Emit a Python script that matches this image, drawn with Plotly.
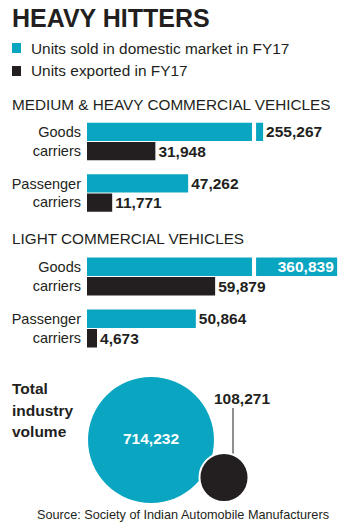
import plotly.graph_objects as go

# ---------------- data ----------------
categories = ["Goods<br>carriers", "Passenger<br>carriers"]
mhcv_domestic = [255267, 47262]
mhcv_export = [31948, 11771]
lcv_domestic = [360839, 50864]
lcv_export = [59879, 4673]
bubble_labels = ["Domestic", "Exported"]
bubble_values = [714232, 108271]

title = "HEAVY HITTERS"
legend_labels = ["Units sold in domestic market in FY17", "Units exported in FY17"]
section_titles = ["MEDIUM & HEAVY COMMERCIAL VEHICLES", "LIGHT COMMERCIAL VEHICLES"]
source = "Source: Society of Indian Automobile Manufacturers"

# ---------------- style ----------------
W, H = 350, 532
TEAL = "#0aa6c1"
DARK = "#231f20"
FONT = "Liberation Sans, Arial, sans-serif"

UNITS_PER_PX = 467.3
X0_PX = 87
BREAK_AT = 77100      # where long bars are broken
BREAK_GAP = 1900      # white gap width (units)
TAIL_AFTER_BREAK = {  # drawn length after the gap for broken bars
    (0, 0): 3300,
    (1, 0): 37900,
}
NUM_SIZE = 15.5


def shown(vals, section):
    out = []
    for i, v in enumerate(vals):
        if v > BREAK_AT + BREAK_GAP and (section, i) in TAIL_AFTER_BREAK:
            out.append(BREAK_AT + BREAK_GAP + TAIL_AFTER_BREAK[(section, i)])
        else:
            out.append(v)
    return out


def fmt(v):
    return f"<b>{v:,}</b>"


def py(px):
    return 1 - px / H


fig = go.Figure()

sections = [
    (mhcv_domestic, mhcv_export, "y"),
    (lcv_domestic, lcv_export, "y2"),
]

for s, (dom, exp, yax) in enumerate(sections):
    dshown = shown(dom, s)
    tpos = []
    tcol = []
    for i, v in enumerate(dom):
        if (s, i) in TAIL_AFTER_BREAK and TAIL_AFTER_BREAK[(s, i)] > 20000:
            tpos.append("inside")
            tcol.append("white")
        else:
            tpos.append("outside")
            tcol.append(DARK)
    fig.add_trace(go.Bar(
        y=list(range(len(categories))), x=dshown, orientation="h",
        yaxis=yax, xaxis="x",
        marker=dict(color=TEAL, line=dict(width=0)),
        text=[fmt(v) for v in dom], textposition=tpos,
        insidetextanchor="end",
        textfont=dict(family=FONT, size=NUM_SIZE, color=tcol),
        constraintext="none", cliponaxis=False,
        name=legend_labels[0], hoverinfo="skip",
    ))
    fig.add_trace(go.Bar(
        y=list(range(len(categories))), x=exp, orientation="h",
        yaxis=yax, xaxis="x",
        marker=dict(color=DARK, line=dict(width=0)),
        text=[fmt(v) for v in exp], textposition="outside",
        textfont=dict(family=FONT, size=NUM_SIZE, color=DARK),
        constraintext="none", cliponaxis=False,
        name=legend_labels[1], hoverinfo="skip",
    ))
    # white break marks on the (upper) domestic bar only
    for i, v in enumerate(dom):
        if (s, i) in TAIL_AFTER_BREAK:
            fig.add_shape(type="rect", xref="x", yref=yax,
                          x0=BREAK_AT, x1=BREAK_AT + BREAK_GAP,
                          y0=i - 0.45, y1=i - 0.01,
                          fillcolor="white", line=dict(width=0), layer="above")

# ---------------- bubbles ----------------
D_MAX = 126
bubble_x = [151, 224]
bubble_y = [440, 477.5]
fig.add_trace(go.Scatter(
    x=bubble_x, y=bubble_y, xaxis="x2", yaxis="y3",
    mode="markers+text",
    marker=dict(size=bubble_values, sizemode="area",
                sizeref=2 * max(bubble_values) / D_MAX ** 2,
                color=[TEAL, DARK], line=dict(color="white", width=[0, 2]),
                opacity=1),
    text=[fmt(bubble_values[0]), ""], textposition="middle center",
    textfont=dict(family=FONT, size=15.5, color="white"),
    hoverinfo="skip", cliponaxis=False,
))
fig.add_shape(type="line", xref="x2", yref="y3", x0=233, x1=233, y0=408, y1=454,
              line=dict(color=DARK, width=1), layer="below")

ann = []
ann.append(dict(x=242, y=398, xref="x2", yref="y3", text=fmt(bubble_values[1]),
                showarrow=False, font=dict(family=FONT, size=NUM_SIZE, color=DARK)))

# ---------------- text ----------------
def add_text(txt, x, y_px, size, family=FONT, color=DARK, xanchor="left"):
    ann.append(dict(x=x / W, y=py(y_px), xref="paper", yref="paper", text=txt,
                    showarrow=False, xanchor=xanchor, yanchor="middle",
                    font=dict(family=family, size=size, color=color)))

add_text("<b>" + title + "</b>", 10, 18, 25)
add_text(legend_labels[0], 29, 48.5, 15.4)
add_text(legend_labels[1], 29, 70.5, 15.4)
add_text(section_titles[0], 10, 104, 15.3)
add_text(section_titles[1], 10, 238, 15.3)
add_text("<b>Total</b>", 10, 388.5, 15.5)
add_text("<b>industry</b>", 10, 410, 15.5)
add_text("<b>volume</b>", 10, 431.5, 15.5)
add_text(source, 35, 515, 12.7)

# legend squares
for col, (y0, y1) in zip([TEAL, DARK], [(43, 53), (66, 76)]):
    fig.add_shape(type="rect", xref="paper", yref="paper",
                  x0=12 / W, x1=21 / W, y0=py(y1), y1=py(y0),
                  fillcolor=col, line=dict(width=0))

axis_off = dict(visible=False, showgrid=False, zeroline=False, fixedrange=True)
ycat = dict(range=[1.5, -0.5], tickvals=list(range(len(categories))), ticktext=categories,
            showgrid=False, zeroline=False, showline=False, ticks="",
            tickfont=dict(family=FONT, size=14.5, color=DARK), anchor="x",
            ticklabelstandoff=5)

fig.update_layout(
    width=W, height=H, margin=dict(l=0, r=0, t=0, b=0),
    paper_bgcolor="white", plot_bgcolor="rgba(0,0,0,0)",
    showlegend=False, barmode="group", bargap=0.25, bargroupgap=0.06,
    xaxis=dict(domain=[X0_PX / W, 1], range=[0, (W - X0_PX) * UNITS_PER_PX], **axis_off),
    yaxis=dict(domain=[py(218.75), py(115.75)], **ycat),
    yaxis2=dict(domain=[py(354.5), py(250.5)], **ycat),
    xaxis2=dict(domain=[0, 1], range=[0, W], anchor="y3", **axis_off),
    yaxis3=dict(domain=[0, 1], range=[H, 0], anchor="x2", **axis_off),
    annotations=ann,
)

fig.write_html("out.html")
